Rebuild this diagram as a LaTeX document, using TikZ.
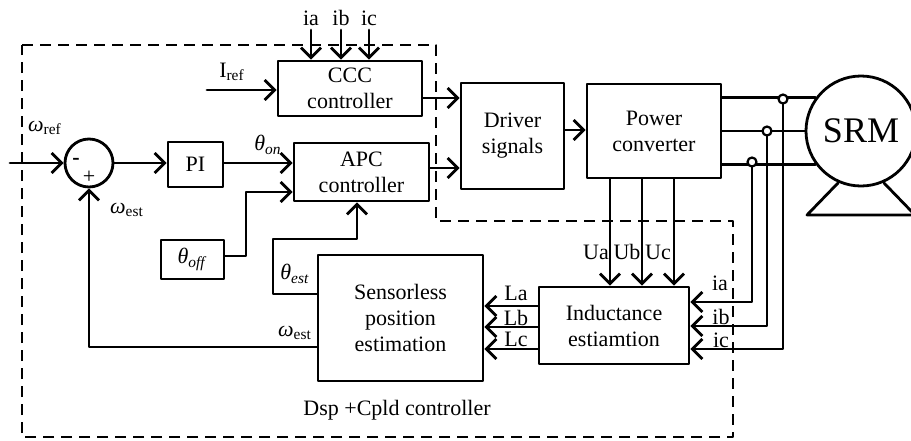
\documentclass[tikz,border=0pt]{standalone}
\usepackage{fontspec}
\setmainfont{Liberation Serif}
\usetikzlibrary{arrows.meta}

\tikzset{
  blk/.style={draw, line width=1.4pt, align=center, inner sep=1pt},
  wire/.style={line width=1.4pt},
  arr/.style={wire, -{Straight Barb[length=5pt, width=10pt]}},
  jdot/.style={circle, draw, fill=white, line width=1.1pt, inner sep=0pt, minimum size=4.5pt},
  lbl/.style={inner sep=1pt},
}

\begin{document}
\begin{tikzpicture}[x=0.5pt, y=-0.5pt, line join=round, line cap=round,
  font=\fontsize{11}{13}\selectfont]
\useasboundingbox (0,0) rectangle (911,440);

% controller boundary
\draw[line width=0.9pt, line cap=butt, dash pattern=on 5.5pt off 3.5pt]
  (22,45) -- (436,45) -- (436,221) -- (733,221) -- (733,437) -- (22,437) -- cycle;

% blocks
\node[blk, minimum width=72pt, minimum height=27.5pt] (ccc) at (350,88.5) {CCC\\controller};
\node[blk, minimum width=67.5pt, minimum height=29pt] (apc) at (361.5,172) {APC\\controller};
\node[blk, minimum width=27.5pt, minimum height=22.5pt] (pi) at (195.5,164.5) {PI};
\node[blk, minimum width=31.5pt, minimum height=19.5pt] (thoff) at (192.5,259.5) {\textit{θ}\textsubscript{\textit{off}}};
\node[blk, minimum width=82.5pt, minimum height=63pt] (sens) at (400.5,318) {Sensorless\\position\\estimation};
\node[blk, minimum width=75pt, minimum height=38.5pt] (ind) at (614,325.5) {Inductance\\estiamtion};
\node[blk, minimum width=51.5pt, minimum height=53pt] (drv) at (512.5,136) {Driver\\signals};
\node[blk, minimum width=67pt, minimum height=47pt] (pwr) at (654,131) {Power\\converter};
\node[circle, draw, line width=1.4pt, minimum size=24pt, inner sep=0pt] (sum) at (89,163) {};
\node[lbl] at (76,161) {\textbf{-}};
\node[lbl] at (89,177) {+};

% motor
\draw[wire] (838,183) -- (807,215) -- (915,215) -- (884,183);
\node[circle, draw, fill=white, line width=1.4pt, minimum size=55pt, inner sep=0pt,
  font=\fontsize{18}{20}\selectfont] (mot) at (861,131) {SRM};

% current feedback into CCC
\foreach \name/\x in {ia/311, ib/341, ic/369} {
  \node[lbl] (t\name) at (\x,18) {\name};
  \draw[arr] (\x,30) -- (\x,0 |- ccc.north);
}
\node[lbl] (liref) at (232,72) {I\textsubscript{ref}};
\coordinate (iref) at (207,90);
\draw[arr] (iref) -- (iref -| ccc.west);

% speed loop
\node[lbl] (lwref) at (45,128) {\textit{ω}\textsubscript{ref}};
\coordinate (wref) at (10,163);
\draw[arr] (wref) -- (sum.west);
\draw[arr] (sum.east) -- (sum.east -| pi.west);
\draw[arr] (pi.east |- sum.east) -- (apc.west |- sum.east);
\node[lbl] (lthon) at (268,145) {\textit{θ}\textsubscript{\textit{on}}};
\draw[arr] (thoff.east |- 0,256) -- (246,256) -- (246,192) -- (apc.west |- 0,192);
\draw[arr] (sens.west |- 0,294) -- (273,294) -- (273,239) -- (357,239) -- (357,0 |- apc.south);
\node[lbl] (lthest) at (295,274) {\textit{θ}\textsubscript{\textit{est}}};
\draw[arr] (sens.west |- 0,347) -- (89,347) -- (sum.south);
\node[lbl] (lwest1) at (127,210) {\textit{ω}\textsubscript{est}};
\node[lbl] (lwest2) at (295,333) {\textit{ω}\textsubscript{est}};

% driver and converter
\draw[arr] (ccc.east |- 0,98) -- (drv.west |- 0,98);
\draw[arr] (apc.east |- 0,168) -- (drv.west |- 0,168);
\draw[arr] (drv.east |- 0,130) -- (pwr.west |- 0,130);
\draw[wire] (pwr.east |- mot.144) -- (mot.144);
\draw[wire] (pwr.east |- mot.west) -- (mot.west);
\draw[wire] (pwr.east |- mot.216) -- (mot.216);

% voltages into inductance estimation
\foreach \name/\x/\lx in {Ua/610/596, Ub/642/627, Uc/674/658} {
  \draw[arr] (pwr.south -| \x,0) -- (ind.north -| \x,0);
  \node[lbl] at (\lx,252) {\name};
}

% phase currents into inductance estimation
\coordinate (jc) at (783,99);
\coordinate (jb) at (767,131);
\coordinate (ja) at (752,162);
\draw[arr] (ja) -- (ja |- 0,302) -- (ind.east |- 0,302);
\draw[arr] (jb) -- (jb |- 0,326) -- (ind.east |- 0,326);
\draw[arr] (jc) -- (jc |- 0,349) -- (ind.east |- 0,349);
\foreach \j in {ja, jb, jc} \node[jdot] at (\j) {};
\node[lbl] at (720,283) {ia};
\node[lbl] at (721,317) {ib};
\node[lbl] at (721,340) {ic};

% inductances to position estimation
\foreach \name/\y/\ly in {La/306/293, Lb/327/318, Lc/349/339} {
  \draw[arr] (ind.west |- 0,\y) -- (sens.east |- 0,\y);
  \node[lbl] at (516,\ly) {\name};
}

\node[lbl] (ldsp) at (397,410) {Dsp +Cpld controller};
\end{tikzpicture}
\end{document}
